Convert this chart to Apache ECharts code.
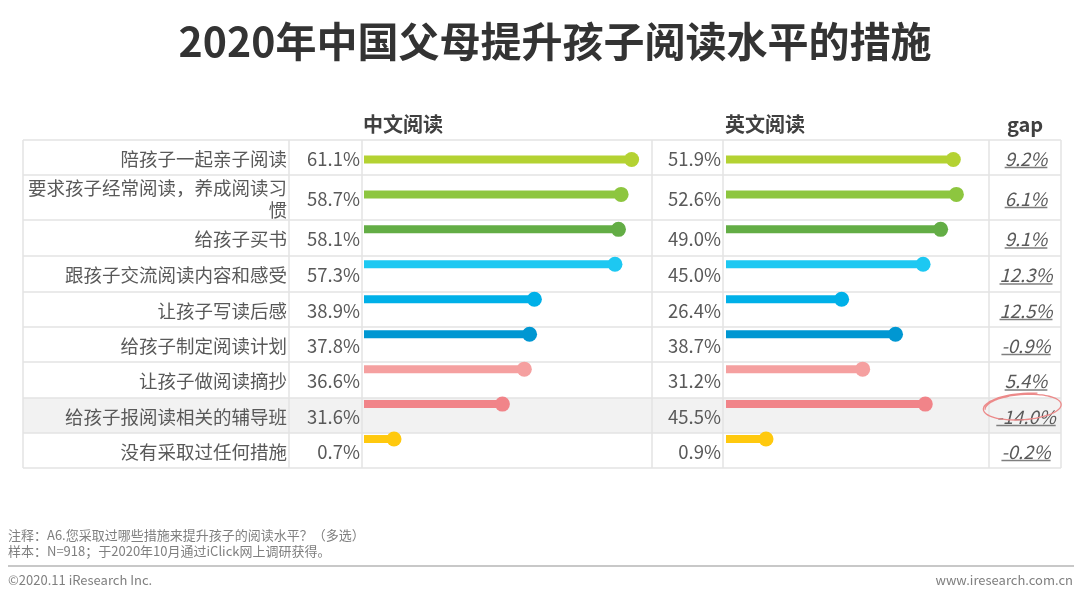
<!DOCTYPE html>
<html>
<head>
<meta charset="utf-8">
<title>2020年中国父母提升孩子阅读水平的措施</title>
<script src="https://cdn.jsdelivr.net/npm/echarts@6.0.0/dist/echarts.min.js"></script>
<style>
  html, body { margin: 0; padding: 0; background: #fff; }
  #main { width: 1080px; height: 602px; }
</style>
</head>
<body>
<div id="main"></div>
<script>
// 数据
var categories = ['陪孩子一起亲子阅读', '要求孩子经常阅读，养成阅读习惯', '给孩子买书', '跟孩子交流阅读内容和感受',
  '让孩子写读后感', '给孩子制定阅读计划', '让孩子做阅读摘抄', '给孩子报阅读相关的辅导班', '没有采取过任何措施'];
var zhValues = [61.1, 58.7, 58.1, 57.3, 38.9, 37.8, 36.6, 31.6, 0.7];
var enValues = [51.9, 52.6, 49.0, 45.0, 26.4, 38.7, 31.2, 45.5, 0.9];
var gapValues = [9.2, 6.1, 9.1, 12.3, 12.5, -0.9, 5.4, -14.0, -0.2];

var barColors = ['#b4d232', '#8dc63f', '#63ad45', '#1dc8f2', '#00b0e8', '#0097d2', '#f5a0a0', '#f18489', '#ffc90e'];

// 表格布局
var rowEdges = [140, 175, 220, 256, 292, 327, 362, 398, 433, 468];
var colLines = [289, 362, 652, 723, 989];
var tableLeft = 23, tableRight = 1061;
var FONT = '"Noto Sans CJK SC", "Microsoft YaHei", sans-serif';
var textColor = '#595959';

var myChart = echarts.init(document.getElementById('main'));

function pct(v) { return v.toFixed(1) + '%'; }

var measureCtx = document.createElement('canvas').getContext('2d');
function textWidth(str, font) {
  measureCtx.font = font;
  return measureCtx.measureText(str).width;
}

function makeRender(minLen) {
  return function (params, api) {
    var v = api.value(0);
    var idx = api.value(1);
    var start = api.coord([0, idx]);
    var end = api.coord([v, idx]);
    var ex = Math.max(end[0], start[0] + minLen);
    var color = barColors[idx];
    return {
      type: 'group',
      children: [
        { type: 'rect', shape: { x: start[0], y: end[1] - 4, width: ex - start[0], height: 8 }, style: { fill: color } },
        { type: 'circle', shape: { cx: ex, cy: end[1], r: 7.5 }, style: { fill: color } }
      ]
    };
  };
}

var graphics = [];

// 标题
graphics.push({
  type: 'text', x: 555, y: 41,
  style: { text: '2020年中国父母提升孩子阅读水平的措施', font: 'bold 41px ' + FONT, fill: '#333', align: 'center', verticalAlign: 'middle' }
});
// 表头
[['中文阅读', 403], ['英文阅读', 765], ['gap', 1025]].forEach(function (h) {
  graphics.push({
    type: 'text', x: h[1], y: 124,
    style: { text: h[0], font: 'bold 20px ' + FONT, fill: '#404040', align: 'center', verticalAlign: 'middle' }
  });
});

// 高亮行背景
graphics.push({
  type: 'rect', z: -2,
  shape: { x: tableLeft, y: rowEdges[7], width: tableRight - tableLeft, height: rowEdges[8] - rowEdges[7] },
  style: { fill: '#f2f2f2' }
});

// 表格线
rowEdges.forEach(function (y) {
  graphics.push({ type: 'line', z: -1, shape: { x1: tableLeft, y1: y, x2: tableRight, y2: y }, style: { stroke: '#e3e3e3', lineWidth: 1.5 } });
});
[tableLeft].concat(colLines, [tableRight]).forEach(function (x) {
  graphics.push({ type: 'line', z: -1, shape: { x1: x, y1: rowEdges[0], x2: x, y2: rowEdges[rowEdges.length - 1] }, style: { stroke: '#e3e3e3', lineWidth: 1.5 } });
});

// 表格文字
var cellFont = '18.5px ' + FONT;
var gapFont = 'italic 18.5px ' + FONT;
categories.forEach(function (name, i) {
  var cy = (rowEdges[i] + rowEdges[i + 1]) / 2 + 1;
  graphics.push({
    type: 'text', x: 287, y: cy,
    style: { text: name, font: cellFont, fill: textColor, align: 'right', verticalAlign: 'middle', width: 266, overflow: 'break', lineHeight: 22 }
  });
  graphics.push({
    type: 'text', x: 360, y: cy,
    style: { text: pct(zhValues[i]), font: cellFont, fill: textColor, align: 'right', verticalAlign: 'middle' }
  });
  graphics.push({
    type: 'text', x: 721, y: cy,
    style: { text: pct(enValues[i]), font: cellFont, fill: textColor, align: 'right', verticalAlign: 'middle' }
  });
  var g = pct(gapValues[i]);
  var w = textWidth(g, gapFont);
  graphics.push({
    type: 'text', x: 1026, y: cy,
    style: { text: g, font: gapFont, fill: textColor, align: 'center', verticalAlign: 'middle' }
  });
  graphics.push({
    type: 'line', shape: { x1: 1026 - w / 2, y1: cy + 9, x2: 1026 + w / 2, y2: cy + 9 },
    style: { stroke: '#7f7f7f', lineWidth: 1.3 }
  });
});

// 手绘圈注
var circlePts = [];
var cxE = 1023, cyE = 407, rot = -4 * Math.PI / 180;
for (var k = 0; k <= 70; k++) {
  var t = k / 70;
  var th = Math.PI + t * (Math.PI * 2 + Math.PI * 0.62);
  var grow = 1 + 0.1 * Math.pow(t, 3);
  var px = 38 * grow * Math.cos(th), py = 12.5 * grow * Math.sin(th);
  circlePts.push([cxE + px * Math.cos(rot) - py * Math.sin(rot), cyE + px * Math.sin(rot) + py * Math.cos(rot)]);
}
graphics.push({ type: 'polyline', z: 10, shape: { points: circlePts, smooth: 0.3 }, style: { stroke: '#ec8a8a', lineWidth: 1.3, fill: null } });

// 脚注
graphics.push({ type: 'text', x: 8, y: 535, style: { text: '注释：A6.您采取过哪些措施来提升孩子的阅读水平？（多选）', font: '13px ' + FONT, fill: '#7f7f7f', verticalAlign: 'middle' } });
graphics.push({ type: 'text', x: 8, y: 551, style: { text: '样本：N=918；于2020年10月通过iClick网上调研获得。', font: '13px ' + FONT, fill: '#7f7f7f', verticalAlign: 'middle' } });
graphics.push({ type: 'line', shape: { x1: 8, y1: 566, x2: 1074, y2: 566 }, style: { stroke: '#c8c8c8', lineWidth: 2 } });
graphics.push({ type: 'text', x: 8, y: 580, style: { text: '©2020.11 iResearch Inc.', font: '13px ' + FONT, fill: '#7f7f7f', verticalAlign: 'middle' } });
graphics.push({ type: 'text', x: 1073, y: 580, style: { text: 'www.iresearch.com.cn', font: '13px ' + FONT, fill: '#7f7f7f', align: 'right', verticalAlign: 'middle' } });

var pxPerPct = 4.38;
var option = {
  animation: false,
  graphic: graphics,
  grid: [
    { left: 364, top: 142, width: 65 * pxPerPct, height: 314.5 },
    { left: 726, top: 142, width: 60 * pxPerPct, height: 314.5 }
  ],
  xAxis: [
    { type: 'value', gridIndex: 0, min: 0, max: 65, show: false },
    { type: 'value', gridIndex: 1, min: 0, max: 60, show: false }
  ],
  yAxis: [
    { type: 'category', gridIndex: 0, data: categories, inverse: true, show: false },
    { type: 'category', gridIndex: 1, data: categories, inverse: true, show: false }
  ],
  series: [
    {
      name: '中文阅读', type: 'custom', xAxisIndex: 0, yAxisIndex: 0,
      renderItem: makeRender(30), encode: { x: 0, y: 1 },
      data: zhValues.map(function (v, i) { return [v, i]; })
    },
    {
      name: '英文阅读', type: 'custom', xAxisIndex: 1, yAxisIndex: 1,
      renderItem: makeRender(40), encode: { x: 0, y: 1 },
      data: enValues.map(function (v, i) { return [v, i]; })
    }
  ]
};

myChart.setOption(option);
window.onresize = function () {
  myChart.resize();
};
</script>
</body>
</html>
